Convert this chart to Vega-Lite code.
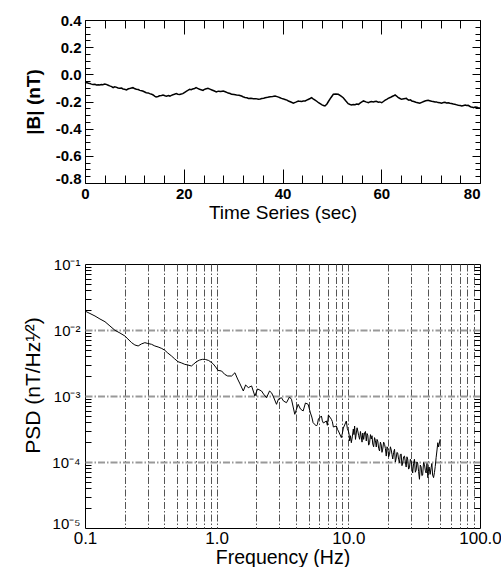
{
  "$schema": "https://vega.github.io/schema/vega-lite/v6.json",
  "padding": {"left": 22, "top": 12, "right": 5, "bottom": 0},
  "spacing": 33,
  "config": {
    "font": "Liberation Sans",
    "view": {"stroke": "black", "strokeWidth": 1},
    "axis": {"domain": false, "grid": false, "tickColor": "black", "tickWidth": 1, "labelColor": "black", "titleColor": "black"}
  },
  "datasets": {
    "ts": [
      {"t": 0, "B": -0.062}, {"t": 0.3, "B": -0.06}, {"t": 0.7, "B": -0.066}, {"t": 1.0, "B": -0.068}, {"t": 1.3, "B": -0.072}, {"t": 1.6, "B": -0.074},
      {"t": 2.0, "B": -0.073}, {"t": 2.3, "B": -0.078}, {"t": 2.7, "B": -0.076}, {"t": 3.0, "B": -0.079}, {"t": 3.3, "B": -0.075}, {"t": 3.6, "B": -0.076}, {"t": 4.0, "B": -0.071}, {"t": 4.3, "B": -0.074},
      {"t": 4.7, "B": -0.08}, {"t": 5.0, "B": -0.085}, {"t": 5.4, "B": -0.09}, {"t": 5.7, "B": -0.098}, {"t": 6.0, "B": -0.092}, {"t": 6.3, "B": -0.094}, {"t": 6.7, "B": -0.1}, {"t": 7.0, "B": -0.103},
      {"t": 7.4, "B": -0.101}, {"t": 7.7, "B": -0.108}, {"t": 8.0, "B": -0.11}, {"t": 8.4, "B": -0.115}, {"t": 8.7, "B": -0.108}, {"t": 9.0, "B": -0.105}, {"t": 9.4, "B": -0.1}, {"t": 9.7, "B": -0.098},
      {"t": 10.0, "B": -0.104}, {"t": 10.4, "B": -0.11}, {"t": 10.8, "B": -0.112}, {"t": 11.1, "B": -0.118}, {"t": 11.5, "B": -0.121}, {"t": 11.8, "B": -0.125}, {"t": 12.1, "B": -0.13}, {"t": 12.4, "B": -0.135},
      {"t": 12.8, "B": -0.137}, {"t": 13.1, "B": -0.142}, {"t": 13.5, "B": -0.146}, {"t": 13.8, "B": -0.152}, {"t": 14.1, "B": -0.16}, {"t": 14.4, "B": -0.167}, {"t": 14.8, "B": -0.163}, {"t": 15.1, "B": -0.158},
      {"t": 15.5, "B": -0.156}, {"t": 15.8, "B": -0.152}, {"t": 16.2, "B": -0.158}, {"t": 16.5, "B": -0.161}, {"t": 16.9, "B": -0.156}, {"t": 17.2, "B": -0.16}, {"t": 17.5, "B": -0.155}, {"t": 17.8, "B": -0.15},
      {"t": 18.1, "B": -0.147}, {"t": 18.5, "B": -0.142}, {"t": 18.8, "B": -0.146}, {"t": 19.2, "B": -0.148}, {"t": 19.5, "B": -0.145}, {"t": 19.8, "B": -0.142}, {"t": 20.2, "B": -0.132}, {"t": 20.5, "B": -0.125},
      {"t": 20.9, "B": -0.117}, {"t": 21.2, "B": -0.11}, {"t": 21.5, "B": -0.113}, {"t": 21.8, "B": -0.108}, {"t": 22.2, "B": -0.104}, {"t": 22.5, "B": -0.098}, {"t": 22.9, "B": -0.105}, {"t": 23.2, "B": -0.11},
      {"t": 23.5, "B": -0.113}, {"t": 23.9, "B": -0.118}, {"t": 24.1, "B": -0.112}, {"t": 24.4, "B": -0.108}, {"t": 24.9, "B": -0.103}, {"t": 25.3, "B": -0.109}, {"t": 25.7, "B": -0.115}, {"t": 26.1, "B": -0.121},
      {"t": 26.6, "B": -0.13}, {"t": 27.0, "B": -0.124}, {"t": 27.5, "B": -0.126}, {"t": 28.0, "B": -0.123}, {"t": 28.4, "B": -0.128}, {"t": 28.7, "B": -0.133}, {"t": 29.0, "B": -0.138}, {"t": 29.4, "B": -0.141},
      {"t": 29.7, "B": -0.147}, {"t": 30.2, "B": -0.149}, {"t": 30.7, "B": -0.152}, {"t": 31.2, "B": -0.154}, {"t": 31.7, "B": -0.16}, {"t": 32.0, "B": -0.165}, {"t": 32.4, "B": -0.17}, {"t": 32.8, "B": -0.172},
      {"t": 33.1, "B": -0.177}, {"t": 33.6, "B": -0.176}, {"t": 34.1, "B": -0.18}, {"t": 34.6, "B": -0.179}, {"t": 35.1, "B": -0.184}, {"t": 35.5, "B": -0.181}, {"t": 35.8, "B": -0.178}, {"t": 36.2, "B": -0.176},
      {"t": 36.5, "B": -0.172}, {"t": 37.0, "B": -0.169}, {"t": 37.5, "B": -0.165}, {"t": 38.0, "B": -0.163}, {"t": 38.5, "B": -0.16}, {"t": 38.9, "B": -0.164}, {"t": 39.2, "B": -0.168}, {"t": 39.5, "B": -0.172},
      {"t": 39.8, "B": -0.177}, {"t": 40.2, "B": -0.181}, {"t": 40.5, "B": -0.185}, {"t": 40.9, "B": -0.19}, {"t": 41.2, "B": -0.196}, {"t": 41.7, "B": -0.204}, {"t": 42.2, "B": -0.213}, {"t": 42.7, "B": -0.205},
      {"t": 43.2, "B": -0.196}, {"t": 43.5, "B": -0.199}, {"t": 43.9, "B": -0.2}, {"t": 44.2, "B": -0.197}, {"t": 44.6, "B": -0.196}, {"t": 44.9, "B": -0.19}, {"t": 45.2, "B": -0.185}, {"t": 45.6, "B": -0.178},
      {"t": 45.9, "B": -0.172}, {"t": 46.2, "B": -0.18}, {"t": 46.6, "B": -0.19}, {"t": 47.0, "B": -0.2}, {"t": 47.3, "B": -0.209}, {"t": 47.7, "B": -0.218}, {"t": 48.0, "B": -0.225}, {"t": 48.3, "B": -0.229},
      {"t": 48.6, "B": -0.233}, {"t": 49.0, "B": -0.218}, {"t": 49.3, "B": -0.2}, {"t": 49.8, "B": -0.172}, {"t": 50.3, "B": -0.147}, {"t": 50.8, "B": -0.144}, {"t": 51.3, "B": -0.147}, {"t": 51.8, "B": -0.158},
      {"t": 52.3, "B": -0.172}, {"t": 52.8, "B": -0.195}, {"t": 53.3, "B": -0.216}, {"t": 53.7, "B": -0.222}, {"t": 54.0, "B": -0.225}, {"t": 54.3, "B": -0.222}, {"t": 54.7, "B": -0.223}, {"t": 55.0, "B": -0.218},
      {"t": 55.4, "B": -0.221}, {"t": 55.7, "B": -0.212}, {"t": 56.0, "B": -0.205}, {"t": 56.4, "B": -0.196}, {"t": 56.9, "B": -0.203}, {"t": 57.4, "B": -0.209}, {"t": 57.7, "B": -0.203}, {"t": 58.0, "B": -0.2},
      {"t": 58.4, "B": -0.204}, {"t": 58.7, "B": -0.2}, {"t": 59.0, "B": -0.198}, {"t": 59.4, "B": -0.205}, {"t": 59.7, "B": -0.203}, {"t": 60.1, "B": -0.209}, {"t": 60.5, "B": -0.198}, {"t": 60.8, "B": -0.19},
      {"t": 61.1, "B": -0.184}, {"t": 61.4, "B": -0.177}, {"t": 61.8, "B": -0.171}, {"t": 62.1, "B": -0.165}, {"t": 62.5, "B": -0.158}, {"t": 62.8, "B": -0.152}, {"t": 63.1, "B": -0.16}, {"t": 63.4, "B": -0.17},
      {"t": 63.7, "B": -0.176}, {"t": 64.1, "B": -0.184}, {"t": 64.6, "B": -0.18}, {"t": 65.1, "B": -0.177}, {"t": 65.3, "B": -0.184}, {"t": 65.6, "B": -0.19}, {"t": 65.9, "B": -0.188}, {"t": 66.2, "B": -0.196},
      {"t": 66.6, "B": -0.2}, {"t": 67.0, "B": -0.205}, {"t": 67.4, "B": -0.209}, {"t": 67.8, "B": -0.213}, {"t": 68.2, "B": -0.206}, {"t": 68.6, "B": -0.2}, {"t": 69.0, "B": -0.195}, {"t": 69.5, "B": -0.191},
      {"t": 69.8, "B": -0.194}, {"t": 70.2, "B": -0.198}, {"t": 70.5, "B": -0.2}, {"t": 70.9, "B": -0.204}, {"t": 71.2, "B": -0.203}, {"t": 71.5, "B": -0.208}, {"t": 71.9, "B": -0.21}, {"t": 72.2, "B": -0.213},
      {"t": 72.6, "B": -0.208}, {"t": 72.9, "B": -0.206}, {"t": 73.2, "B": -0.211}, {"t": 73.6, "B": -0.209}, {"t": 73.9, "B": -0.213}, {"t": 74.2, "B": -0.215}, {"t": 74.6, "B": -0.219}, {"t": 74.9, "B": -0.221},
      {"t": 75.3, "B": -0.225}, {"t": 75.6, "B": -0.228}, {"t": 76.0, "B": -0.23}, {"t": 76.3, "B": -0.233}, {"t": 76.7, "B": -0.229}, {"t": 77.0, "B": -0.226}, {"t": 77.3, "B": -0.23}, {"t": 77.6, "B": -0.228},
      {"t": 77.9, "B": -0.235}, {"t": 78.2, "B": -0.24}, {"t": 78.5, "B": -0.243}, {"t": 78.7, "B": -0.245}, {"t": 79.0, "B": -0.241}, {"t": 79.4, "B": -0.243}, {"t": 79.7, "B": -0.247}, {"t": 80.0, "B": -0.248}
    ],
    "psd": [
      {"f": 0.1, "p": 0.0194}, {"f": 0.1091, "p": 0.01778}, {"f": 0.1191, "p": 0.01629}, {"f": 0.1299, "p": 0.01468},
      {"f": 0.1418, "p": 0.01336}, {"f": 0.1547, "p": 0.01151}, {"f": 0.1688, "p": 0.0099}, {"f": 0.1842, "p": 0.00901},
      {"f": 0.2009, "p": 0.00811}, {"f": 0.2118, "p": 0.00731}, {"f": 0.2259, "p": 0.00643}, {"f": 0.2392, "p": 0.00593},
      {"f": 0.2534, "p": 0.00573}, {"f": 0.2679, "p": 0.00614}, {"f": 0.2848, "p": 0.00643}, {"f": 0.3001, "p": 0.00625},
      {"f": 0.3202, "p": 0.00607}, {"f": 0.3391, "p": 0.00573}, {"f": 0.3592, "p": 0.00553}, {"f": 0.3831, "p": 0.00525},
      {"f": 0.4036, "p": 0.00493}, {"f": 0.4255, "p": 0.00448}, {"f": 0.4538, "p": 0.00404}, {"f": 0.4806, "p": 0.00364},
      {"f": 0.5091, "p": 0.00331}, {"f": 0.543, "p": 0.00316}, {"f": 0.5722, "p": 0.00302}, {"f": 0.603, "p": 0.00295},
      {"f": 0.6433, "p": 0.00285}, {"f": 0.6697, "p": 0.00305}, {"f": 0.7018, "p": 0.00331}, {"f": 0.7433, "p": 0.00351},
      {"f": 0.7832, "p": 0.0036}, {"f": 0.8254, "p": 0.00357}, {"f": 0.8699, "p": 0.00345}, {"f": 0.9376, "p": 0.00309},
      {"f": 0.9826, "p": 0.00275}, {"f": 1.023, "p": 0.00245}, {"f": 1.091, "p": 0.00239}, {"f": 1.15, "p": 0.00213},
      {"f": 1.212, "p": 0.00201}, {"f": 1.299, "p": 0.00201}, {"f": 1.376, "p": 0.00225}, {"f": 1.442, "p": 0.00181},
      {"f": 1.494, "p": 0.00157}, {"f": 1.594, "p": 0.00119}, {"f": 1.659, "p": 0.00147}, {"f": 1.739, "p": 0.00134},
      {"f": 1.842, "p": 0.00142}, {"f": 1.951, "p": 0.001}, {"f": 2.045, "p": 0.00128}, {"f": 2.192, "p": 0.00119},
      {"f": 2.27, "p": 0.00107}, {"f": 2.392, "p": 0.000942}, {"f": 2.52, "p": 0.00119}, {"f": 2.61, "p": 0.00112},
      {"f": 2.703, "p": 0.000966}, {"f": 2.848, "p": 0.000748}, {"f": 2.95, "p": 0.000901}, {"f": 3.107, "p": 0.000942},
      {"f": 3.218, "p": 0.000839}, {"f": 3.391, "p": 0.000792}, {"f": 3.573, "p": 0.000966}, {"f": 3.7, "p": 0.000891},
      {"f": 3.919, "p": 0.000528}, {"f": 4.158, "p": 0.000748}, {"f": 4.33, "p": 0.000635}, {"f": 4.538, "p": 0.000593},
      {"f": 4.724, "p": 0.000783}, {"f": 4.952, "p": 0.000748}, {"f": 5.154, "p": 0.000553}, {"f": 5.28, "p": 0.00048}, {"f": 5.402, "p": 0.000394},
      {"f": 5.722, "p": 0.000351}, {"f": 5.82, "p": 0.00037}, {"f": 5.925, "p": 0.000448}, {"f": 6.245, "p": 0.000498}, {"f": 6.35, "p": 0.00042}, {"f": 6.466, "p": 0.00039},
      {"f": 6.813, "p": 0.000418}, {"f": 6.93, "p": 0.00036}, {"f": 7.055, "p": 0.000515}, {"f": 7.433, "p": 0.000444}, {"f": 7.56, "p": 0.00041}, {"f": 7.698, "p": 0.000339},
      {"f": 8.111, "p": 0.000351}, {"f": 8.29, "p": 0.00031}, {"f": 8.472, "p": 0.000285}, {"f": 8.851, "p": 0.000234}, {"f": 9.0, "p": 0.00027}, {"f": 9.165, "p": 0.000327},
      {"f": 9.656, "p": 0.000418}, {"f": 9.83, "p": 0.00032}, {"f": 10.0, "p": 0.000295}, {"f": 10.12, "p": 0.00027}, {"f": 10.23, "p": 0.000208}, {"f": 10.38, "p": 0.00025}, {"f": 10.54, "p": 0.000196},
      {"f": 10.72, "p": 0.00024}, {"f": 10.91, "p": 0.000316}, {"f": 11.03, "p": 0.00026}, {"f": 11.16, "p": 0.000351}, {"f": 11.33, "p": 0.00022}, {"f": 11.5, "p": 0.000275}, {"f": 11.65, "p": 0.00033}, {"f": 11.8, "p": 0.000295},
      {"f": 11.99, "p": 0.00025}, {"f": 12.18, "p": 0.000221}, {"f": 12.36, "p": 0.00029}, {"f": 12.55, "p": 0.000239}, {"f": 12.71, "p": 0.0002}, {"f": 12.88, "p": 0.000275}, {"f": 13.08, "p": 0.00022}, {"f": 13.29, "p": 0.000278},
      {"f": 13.49, "p": 0.00029}, {"f": 13.69, "p": 0.000208}, {"f": 13.87, "p": 0.00027}, {"f": 14.05, "p": 0.000256}, {"f": 14.27, "p": 0.00018}, {"f": 14.5, "p": 0.000196}, {"f": 14.72, "p": 0.00026}, {"f": 14.94, "p": 0.000223},
      {"f": 15.13, "p": 0.00025}, {"f": 15.33, "p": 0.000187}, {"f": 15.57, "p": 0.00017}, {"f": 15.82, "p": 0.000234}, {"f": 16.06, "p": 0.00021}, {"f": 16.3, "p": 0.000169}, {"f": 16.51, "p": 0.00022}, {"f": 16.73, "p": 0.000208},
      {"f": 17.0, "p": 0.00016}, {"f": 17.27, "p": 0.000147}, {"f": 17.52, "p": 0.0002}, {"f": 17.78, "p": 0.000181}, {"f": 18.01, "p": 0.00014}, {"f": 18.25, "p": 0.000157}, {"f": 18.54, "p": 0.0002}, {"f": 18.84, "p": 0.000185},
      {"f": 19.12, "p": 0.00016}, {"f": 19.41, "p": 0.000123}, {"f": 19.66, "p": 0.00017}, {"f": 19.92, "p": 0.000163}, {"f": 20.24, "p": 0.00012}, {"f": 20.56, "p": 0.000131}, {"f": 20.87, "p": 0.00017}, {"f": 21.18, "p": 0.000152},
      {"f": 21.46, "p": 0.00013}, {"f": 21.74, "p": 0.000111}, {"f": 22.08, "p": 0.00014}, {"f": 22.43, "p": 0.000156}, {"f": 22.76, "p": 0.0001}, {"f": 23.1, "p": 0.000115}, {"f": 23.4, "p": 0.00014}, {"f": 23.71, "p": 0.000137},
      {"f": 24.09, "p": 0.00011}, {"f": 24.47, "p": 0.0000976}, {"f": 24.83, "p": 0.00013}, {"f": 25.2, "p": 0.000132}, {"f": 25.54, "p": 0.000088}, {"f": 25.88, "p": 0.0000966}, {"f": 26.29, "p": 0.00012}, {"f": 26.7, "p": 0.000123},
      {"f": 27.1, "p": 0.0001}, {"f": 27.5, "p": 0.0000839}, {"f": 27.86, "p": 0.00012}, {"f": 28.23, "p": 0.000111}, {"f": 28.68, "p": 0.000078}, {"f": 29.13, "p": 0.000082}, {"f": 29.57, "p": 0.00011}, {"f": 30.01, "p": 0.0001035},
      {"f": 30.4, "p": 0.000085}, {"f": 30.8, "p": 0.0000681}, {"f": 31.3, "p": 0.000095}, {"f": 31.79, "p": 0.00011}, {"f": 32.27, "p": 0.00007}, {"f": 32.75, "p": 0.0000757}, {"f": 33.18, "p": 0.0001}, {"f": 33.61, "p": 0.0000966},
      {"f": 34.15, "p": 0.000072}, {"f": 34.69, "p": 0.0000547}, {"f": 35.21, "p": 0.00009}, {"f": 35.73, "p": 0.0000839}, {"f": 36.2, "p": 0.000062}, {"f": 36.68, "p": 0.0000635}, {"f": 37.26, "p": 0.000098}, {"f": 37.84, "p": 0.0000923},
      {"f": 38.41, "p": 0.000075}, {"f": 38.98, "p": 0.0000681}, {"f": 39.57, "p": 0.000095}, {"f": 40.16, "p": 0.0000578}, {"f": 40.6, "p": 0.000072}, {"f": 41.07, "p": 0.0000839}, {"f": 41.8, "p": 0.000065}, {"f": 42.55, "p": 0.000082},
      {"f": 43.1, "p": 0.000095}, {"f": 43.68, "p": 0.0000635}, {"f": 44.4, "p": 0.000058}, {"f": 45.07, "p": 0.0000689}, {"f": 45.7, "p": 0.000085}, {"f": 46.42, "p": 0.000116}, {"f": 47.24, "p": 0.000157},
      {"f": 47.81, "p": 0.000196}, {"f": 48.49, "p": 0.000169}, {"f": 49.77, "p": 0.000221}
    ]
  },
  "vconcat": [
    {
      "width": 395,
      "height": 163,
      "layer": [
        {
          "data": {"name": "ts"},
          "mark": {"type": "line", "color": "black", "strokeWidth": 1.5},
          "encoding": {
            "x": {
              "field": "t", "type": "quantitative",
              "scale": {"domain": [0, 80], "nice": false, "zero": false},
              "axis": {
                "orient": "bottom", "title": "Time Series (sec)", "titleFontSize": 19, "titleFontWeight": "normal", "titlePadding": 2,
                "values": [0,4,8,12,16,20,24,28,32,36,40,44,48,52,56,60,64,68,72,76,80],
                "labelExpr": "datum.value % 20 == 0 ? datum.label : ''",
                "labelFontSize": 15, "labelFontWeight": "bold", "labelPadding": 17, "labelFlush": false,
                "labelAlign": {"condition": {"test": "datum.value == 80", "value": "right"}, "value": "center"},
                "tickSize": {"condition": {"test": "datum.value % 20 == 0", "value": -14}, "value": -8}
              }
            },
            "y": {
              "field": "B", "type": "quantitative",
              "scale": {"domain": [-0.8, 0.4], "nice": false, "zero": false},
              "axis": {
                "orient": "left", "title": "|B| (nT)", "titleFontSize": 19, "titleFontWeight": "bold", "titlePadding": 12,
                "values": [-0.8,-0.75,-0.7,-0.65,-0.6,-0.55,-0.5,-0.45,-0.4,-0.35,-0.3,-0.25,-0.2,-0.15,-0.1,-0.05,0,0.05,0.1,0.15,0.2,0.25,0.3,0.35,0.4],
                "format": ".1f",
                "labelExpr": "abs(datum.value*5 - round(datum.value*5)) < 1e-6 ? replace(datum.label, '\u2212', '-') : ''",
                "labelFontSize": 15, "labelFontWeight": "bold", "labelPadding": 12, "labelFlush": false,
                "labelBaseline": {"condition": {"test": "datum.value < -0.79", "value": "alphabetic"}, "value": "middle"},
                "tickSize": {"condition": {"test": "abs(datum.value*5 - round(datum.value*5)) < 1e-6", "value": -8}, "value": -5}
              }
            }
          }
        },
        {
          "data": {"name": "ts"},
          "mark": {"type": "line", "opacity": 0},
          "encoding": {
            "x": {
              "field": "t", "type": "quantitative",
              "axis": {
                "orient": "top", "title": null, "labels": false,
                "values": [0,4,8,12,16,20,24,28,32,36,40,44,48,52,56,60,64,68,72,76,80],
                "tickSize": {"condition": {"test": "datum.value % 20 == 0", "value": -14}, "value": -8}
              }
            },
            "y": {
              "field": "B", "type": "quantitative",
              "axis": {
                "orient": "right", "title": null, "labels": false,
                "values": [-0.8,-0.75,-0.7,-0.65,-0.6,-0.55,-0.5,-0.45,-0.4,-0.35,-0.3,-0.25,-0.2,-0.15,-0.1,-0.05,0,0.05,0.1,0.15,0.2,0.25,0.3,0.35,0.4],
                "tickSize": {"condition": {"test": "abs(datum.value*5 - round(datum.value*5)) < 1e-6", "value": -8}, "value": -5}
              }
            }
          }
        }
      ],
      "resolve": {"axis": {"x": "independent", "y": "independent"}}
    },
    {
      "width": 395,
      "height": 264,
      "layer": [
        {
          "data": {"name": "psd"},
          "mark": {"type": "line", "color": "black", "strokeWidth": 1},
          "encoding": {
            "x": {
              "field": "f", "type": "quantitative",
              "scale": {"type": "log", "domain": [0.1, 100], "nice": false},
              "axis": {
                "orient": "bottom", "title": "Frequency (Hz)", "titleFontSize": 19.5, "titleFontWeight": "normal", "titlePadding": 2,
                "values": [0.1,0.2,0.3,0.4,0.5,0.6,0.7,0.8,0.9,1,2,3,4,5,6,7,8,9,10,20,30,40,50,60,70,80,90,100],
                "labelExpr": "datum.value == 0.1 ? '0.1' : datum.value == 1 ? '1.0' : datum.value == 10 ? '10.0' : datum.value == 100 ? '100.0' : ''",
                "labelFontSize": 17, "labelPadding": 2, "ticks": false, "labelFlush": false,
                "grid": true, "gridColor": "#555", "gridWidth": 1, "gridDash": [7, 2, 1.5, 2],
                "gridOpacity": {"condition": {"test": "datum.value == 0.1 || datum.value == 100", "value": 0}, "value": 1}
              }
            },
            "y": {
              "field": "p", "type": "quantitative",
              "scale": {"type": "log", "domain": [0.00001, 0.1], "nice": false},
              "axis": {
                "orient": "left", "title": "PSD (nT/Hz\u00b9\u2044\u00b2)", "titleFontSize": 21, "titleFontWeight": "normal", "titlePadding": 8, "titleY": 121,
                "values": [0.00001,0.00002,0.00003,0.00004,0.00005,0.00006,0.00007,0.00008,0.00009,0.0001,0.0002,0.0003,0.0004,0.0005,0.0006,0.0007,0.0008,0.0009,0.001,0.002,0.003,0.004,0.005,0.006,0.007,0.008,0.009,0.01,0.02,0.03,0.04,0.05,0.06,0.07,0.08,0.09,0.1],
                "labelExpr": "abs(log(datum.value)/LN10 - round(log(datum.value)/LN10)) < 1e-6 ? '10' + ['\u207b\u00b9','\u207b\u00b2','\u207b\u00b3','\u207b\u2074','\u207b\u2075'][-round(log(datum.value)/LN10)-1] : ''",
                "labelFontSize": 15, "labelPadding": 5, "labelFlush": false,
                "labelBaseline": {"condition": {"test": "datum.value < 0.000011", "value": "alphabetic"}, "value": "middle"},
                "tickSize": {"condition": {"test": "abs(log(datum.value)/LN10 - round(log(datum.value)/LN10)) < 1e-6", "value": 0}, "value": -6},
                "grid": true, "gridColor": "#999", "gridWidth": 2, "gridDash": [7, 2, 1.5, 2],
                "gridOpacity": {"condition": {"test": "datum.value == 0.01 || datum.value == 0.001 || datum.value == 0.0001", "value": 1}, "value": 0}
              }
            }
          }
        },
        {
          "data": {"name": "psd"},
          "mark": {"type": "line", "opacity": 0},
          "encoding": {
            "x": {"field": "f", "type": "quantitative"},
            "y": {
              "field": "p", "type": "quantitative",
              "axis": {
                "orient": "right", "title": null, "labels": false, "grid": false,
                "values": [0.00001,0.00002,0.00003,0.00004,0.00005,0.00006,0.00007,0.00008,0.00009,0.0001,0.0002,0.0003,0.0004,0.0005,0.0006,0.0007,0.0008,0.0009,0.001,0.002,0.003,0.004,0.005,0.006,0.007,0.008,0.009,0.01,0.02,0.03,0.04,0.05,0.06,0.07,0.08,0.09,0.1],
                "tickSize": {"condition": {"test": "abs(log(datum.value)/LN10 - round(log(datum.value)/LN10)) < 1e-6", "value": 0}, "value": -6}
              }
            }
          }
        }
      ],
      "resolve": {"axis": {"y": "independent"}}
    }
  ]
}
